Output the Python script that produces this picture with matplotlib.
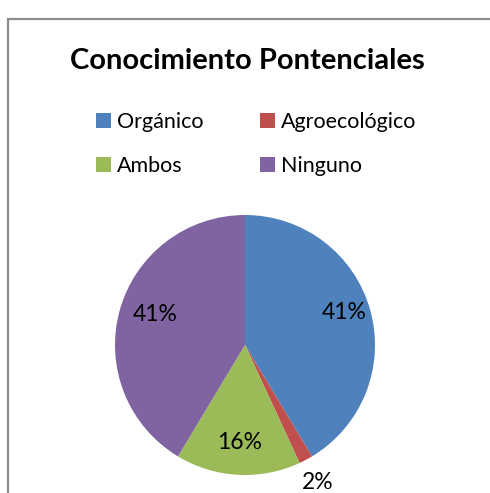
import numpy as np
import matplotlib
matplotlib.use("Agg")
import matplotlib.pyplot as plt
from matplotlib.patches import Rectangle, Patch

categories = ["Orgánico", "Agroecológico", "Ambos", "Ninguno"]
values = [24, 1, 9, 24]
colors = ["#4F81BD", "#C0504D", "#9BBB59", "#8064A2"]
title = "Conocimiento Pontenciales"
label_dist = [0.79, 1.2, 0.75, 0.72]

W, H = 490, 493
fig = plt.figure(figsize=(W / 100, H / 100), dpi=100)
plt.rcParams['font.family'] = ['Lato', 'DejaVu Sans']

# outer frame
fig.add_artist(Rectangle((8 / W, -0.1), 1.2, 1 - 19 / H + 0.1, transform=fig.transFigure,
                         fill=False, edgecolor="#8c8c8c", linewidth=1.6))

cx, cy, r = 245, 345, 130
ax = fig.add_axes([(cx - r) / W, (H - cy - r) / H, 2 * r / W, 2 * r / H])
wedges, texts, autotexts = ax.pie(values, colors=colors, startangle=90, counterclock=False,
                                  autopct=lambda p: f"{p:.0f}%", pctdistance=0.76,
                                  radius=1, wedgeprops=dict(linewidth=0),
                                  textprops=dict(fontsize=16.5, color="black"))
ax.set_xlim(-1, 1)
ax.set_ylim(-1, 1)
ax.set_aspect("equal")

for w, t, d in zip(wedges, autotexts, label_dist):
    ang = np.deg2rad((w.theta1 + w.theta2) / 2)
    t.set_position((d * np.cos(ang), d * np.sin(ang) + (0.04 if d < 1 and abs(np.sin(ang)) < 0.5 else 0)))

fig.text(0.505, 1 - 61 / H, title, ha="center", va="center", fontsize=21, fontweight="bold")

order = [0, 2, 1, 3]
handles = [Patch(facecolor=colors[i], edgecolor="none") for i in order]
labels = [categories[i] for i in order]
leg = fig.legend(handles, labels, ncol=2, loc="center", bbox_to_anchor=(0.523, 1 - 144 / H),
                 frameon=False, fontsize=15.5, handlelength=0.7, handleheight=0.7,
                 handletextpad=0.3, columnspacing=2.6, labelspacing=1.1)

fig.savefig("out.png", dpi=100)
